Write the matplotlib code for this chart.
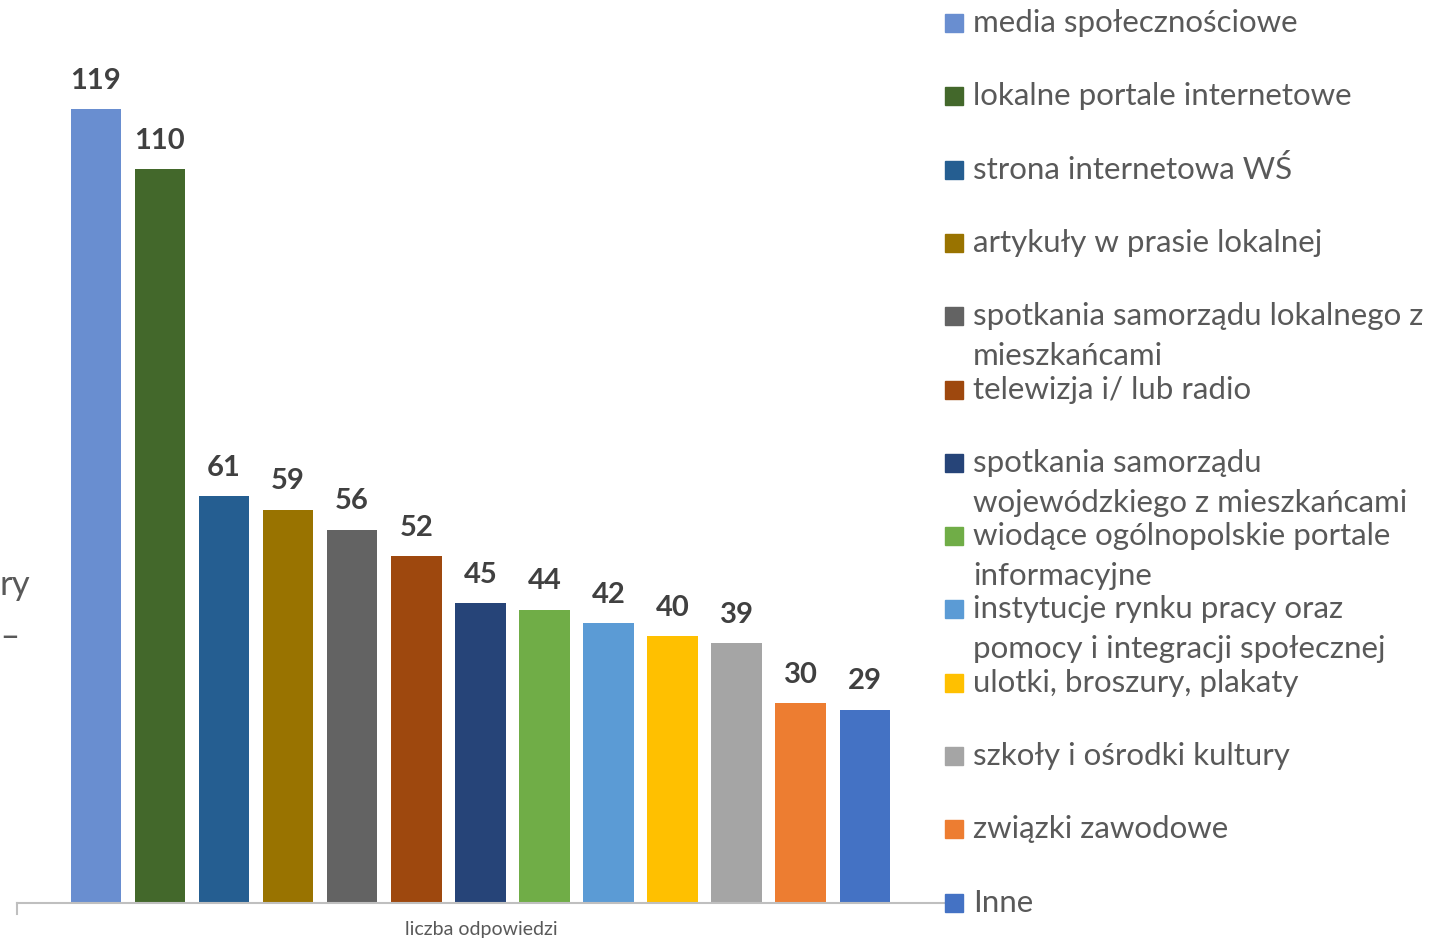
import matplotlib
matplotlib.use("Agg")
import matplotlib.pyplot as plt
from matplotlib.patches import Rectangle

plt.rcParams['font.family'] = ['Lato', 'DejaVu Sans']

categories = [
    "media społecznościowe",
    "lokalne portale internetowe",
    "strona internetowa WŚ",
    "artykuły w prasie lokalnej",
    "spotkania samorządu lokalnego z\nmieszkańcami",
    "telewizja i/ lub radio",
    "spotkania samorządu\nwojewódzkiego z mieszkańcami",
    "wiodące ogólnopolskie portale\ninformacyjne",
    "instytucje rynku pracy oraz\npomocy i integracji społecznej",
    "ulotki, broszury, plakaty",
    "szkoły i ośrodki kultury",
    "związki zawodowe",
    "Inne",
]
values = [119, 110, 61, 59, 56, 52, 45, 44, 42, 40, 39, 30, 29]
colors = ["#698ED0", "#43682B", "#255E91", "#997300", "#636363", "#9E480E",
          "#264478", "#70AD47", "#5B9BD5", "#FFC000", "#A5A5A5", "#ED7D31",
          "#4472C4"]

W, H = 1440, 940
fig = plt.figure(figsize=(W / 100, H / 100), dpi=100)
ax = fig.add_axes([17 / W, 37 / H, 928 / W, 903 / H])

xs = list(range(len(values)))
bars = ax.bar(xs, values, width=0.79, color=colors)
for b, v in zip(bars, values):
    ax.annotate(str(v), (b.get_x() + b.get_width() / 2, v),
                xytext=(0, 11), textcoords="offset points",
                ha="center", va="bottom", fontsize=21, fontweight="bold",
                color="#404040")

ax.set_xlim(-1.23, 13.25)
ax.set_ylim(0, 135.4)
for s in ["top", "right", "left"]:
    ax.spines[s].set_visible(False)
ax.spines["bottom"].set_color("#bfbfbf")
ax.spines["bottom"].set_linewidth(1.5)
ax.set_yticks([])
ax.set_xticks([])
ax.plot([0, 0], [0, -0.012], transform=ax.transAxes, color="#bfbfbf",
        lw=1.5, clip_on=False)

fig.text(481 / W, 1 - 930 / H, "liczba odpowiedzi", ha="center", va="center",
         fontsize=14, color="#595959")

# cut-off axis title fragments at the left edge
fig.text(0, 1 - 585 / H, "ry", ha="left", va="center", fontsize=25,
         color="#595959")
fig.text(0, 1 - 637 / H, "‒", ha="left", va="center", fontsize=25,
         color="#595959")

# legend
row0, step = 23, 73.3
for i, (lab, c) in enumerate(zip(categories, colors)):
    yc = row0 + i * step
    fig.patches.append(Rectangle((945 / W, 1 - (yc + 9) / H), 18 / W, 18 / H,
                                 transform=fig.transFigure, color=c))
    for j, ln in enumerate(lab.split("\n")):
        fig.text(973 / W, 1 - (yc + j * 40) / H, ln, ha="left", va="center",
                 fontsize=22.5, color="#595959")

fig.savefig("out.png", dpi=100)
